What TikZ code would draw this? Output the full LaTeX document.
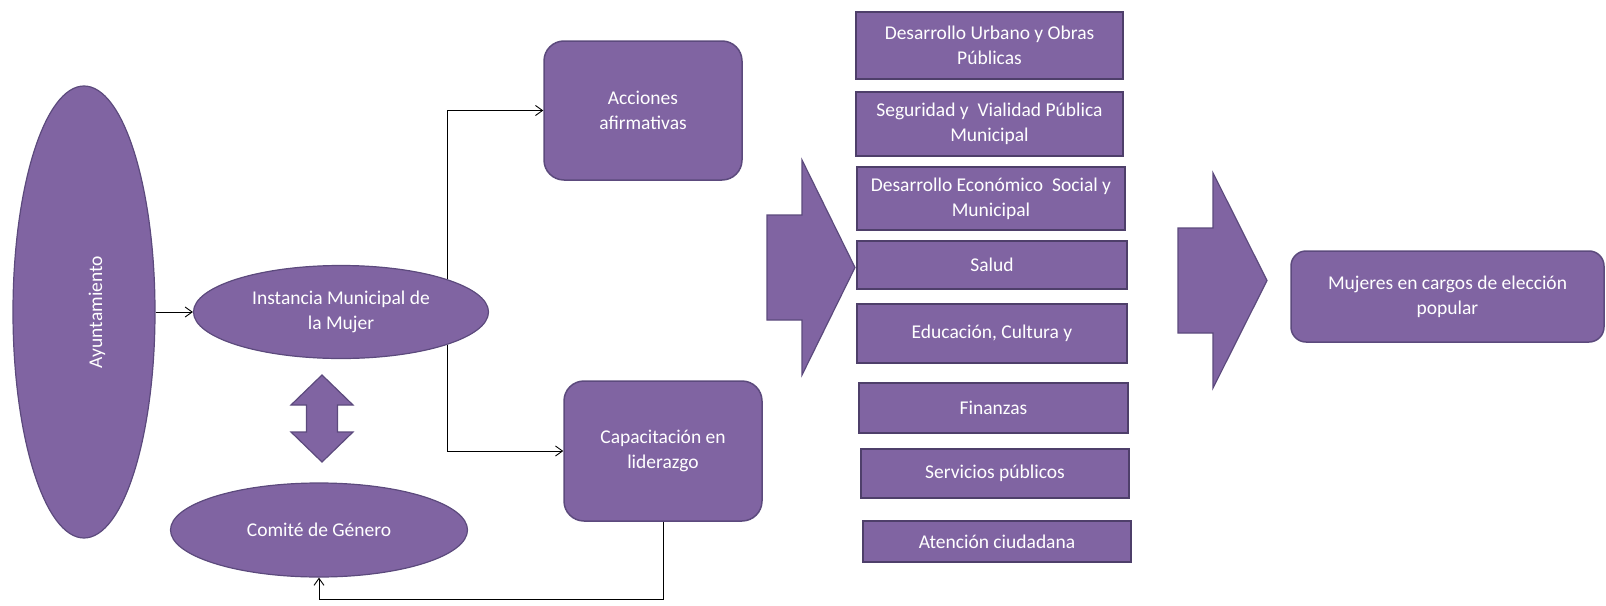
\documentclass[tikz,border=0pt]{standalone}
\usepackage{fontspec}
\setmainfont{Carlito}
\usepackage{xcolor}
\usetikzlibrary{shapes,arrows,positioning,calc,arrows.meta}
\definecolor{morado}{HTML}{8064A2}
\definecolor{moradoosc}{HTML}{5C4A7D}

\begin{document}
\begin{tikzpicture}[x=1pt,y=-1pt,font=\fontsize{19.5pt}{25pt}\selectfont,
    oval/.style={ellipse, draw=moradoosc, fill=morado, line width=1.2pt, inner sep=0pt, text=white, align=center},
    caja/.style={rectangle, draw=moradoosc!85!black, fill=morado, line width=2pt, inner sep=0pt, text=white, align=center},
    cajared/.style={rectangle, rounded corners=20pt, draw=moradoosc, fill=morado, line width=1.5pt, inner sep=0pt, text=white, align=center},
    texto/.style={text=white, align=center},
    enlace/.style={draw=black, line width=0.9pt, -{Straight Barb[length=7pt,width=10pt]}},
    flecha/.style={draw=moradoosc, fill=morado, line width=1.2pt, line join=miter}]
    \useasboundingbox (0,0) rectangle (1606,605);

    % Ayuntamiento and the two ovals
    \node[oval, minimum width=142pt, minimum height=452pt] (ayun) at (84,312) {};
    \node[texto, rotate=90] (ayuntxt) at ($(ayun.center)+(13,0)$) {Ayuntamiento};
    \node[oval, minimum width=295pt, minimum height=93pt] (imm) at (341,312) {Instancia Municipal de\\la Mujer};
    \node[oval, minimum width=297pt, minimum height=94pt] (comite) at (319,530) {Comité de Género};

    % double arrow between the ovals
    \draw[flecha, shift={(322,418.5)}] (0,-43.5) -- (31,-13.5) -- (15.5,-13.5) -- (15.5,13.5) -- (31,13.5) -- (0,43.5)
        -- (-31,13.5) -- (-15.5,13.5) -- (-15.5,-13.5) -- (-31,-13.5) -- cycle;

    % rounded boxes
    \node[cajared, minimum width=198pt, minimum height=139pt] (acc) at (643,110.5) {Acciones\\afirmativas};
    \node[cajared, minimum width=198pt, minimum height=140pt] (cap) at (663,451) {Capacitación en\\liderazgo};

    % areas of the municipality
    \node[caja, minimum width=267pt, minimum height=67pt] (urb) at (989.5,45.5) {Desarrollo Urbano y Obras\\Públicas};
    \node[caja, minimum width=267pt, minimum height=64pt] (seg) at (989.5,124) {Seguridad y\ \ Vialidad Pública\\Municipal};
    \node[caja, minimum width=268pt, minimum height=63pt] (eco) at (991,198.5) {Desarrollo Económico\ \ Social y\\Municipal};
    \node[caja, minimum width=270pt, minimum height=48pt] (sal) at (992,265) {Salud};
    \node[caja, minimum width=270pt, minimum height=59pt] (edu) at (992,333.5) {Educación, Cultura y};
    \node[caja, minimum width=269pt, minimum height=50pt] (fin) at (993.5,408) {Finanzas};
    \node[caja, minimum width=268pt, minimum height=49pt] (ser) at (995,473.5) {Servicios públicos};
    \node[caja, minimum width=268pt, minimum height=41pt] (ate) at (997,541.5) {Atención ciudadana};

    % big arrows
    \draw[flecha, shift={(767,267.5)}] (0,-52.5) -- (35,-52.5) -- (35,-107.5) -- (88,0)
        -- (35,107.5) -- (35,52.5) -- (0,52.5) -- cycle;
    \draw[flecha, shift={(1178,280.5)}] (0,-52.5) -- (35,-52.5) -- (35,-107.5) -- (89,0)
        -- (35,107.5) -- (35,52.5) -- (0,52.5) -- cycle;

    \node[cajared, rounded corners=15pt, minimum width=313pt, minimum height=91pt] (muj) at (1447.5,296.5) {Mujeres en cargos de elección\\popular};

    % connectors
    \draw[enlace] (ayun) -- (imm);
    \draw[enlace] (imm.17) |- (acc.west);
    \draw[enlace] (imm.-17) |- (cap.west);
    \draw[enlace] (cap.south) -- ++(0,78) -| (comite.south);
\end{tikzpicture}
\end{document}
